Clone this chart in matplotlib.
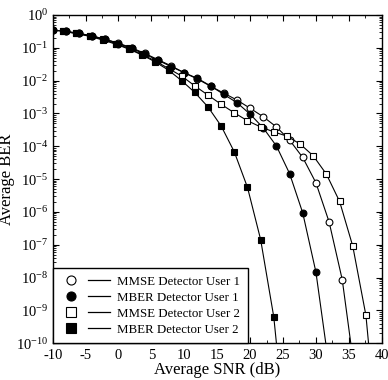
import numpy as np
import matplotlib
matplotlib.use("Agg")
import matplotlib.pyplot as plt
from matplotlib.lines import Line2D
from matplotlib.legend_handler import HandlerTuple
from matplotlib.ticker import LogLocator, MultipleLocator, LogFormatterMathtext, NullFormatter

plt.rcParams['font.family'] = ['Liberation Serif', 'DejaVu Serif']
plt.rcParams['mathtext.fontset'] = 'custom'
plt.rcParams['mathtext.rm'] = 'Liberation Serif'
plt.rcParams['mathtext.it'] = 'Liberation Serif:italic'
plt.rcParams['axes.unicode_minus'] = False

# Data (log10 BER); last entry of each series is where the curve leaves the axes (no marker)
snr_mmse_u1 = [-10, -8, -6, -4, -2, 0, 2, 4, 6, 8, 10, 12, 14, 16, 18, 20, 22, 24, 26, 28, 30, 32, 34, 36]
ber_mmse_u1 = [-0.46, -0.50, -0.56, -0.64, -0.74, -0.86, -1.00, -1.17, -1.36, -1.55, -1.76, -1.95,
               -2.17, -2.38, -2.59, -2.84, -3.10, -3.41, -3.81, -4.34, -5.11, -6.30, -8.06, -11.04]

snr_mber_u1 = [-10, -8, -6, -4, -2, 0, 2, 4, 6, 8, 10, 12, 14, 16, 18, 20, 22, 24, 26, 28, 30, 32]
ber_mber_u1 = [-0.46, -0.50, -0.56, -0.64, -0.74, -0.87, -1.02, -1.19, -1.38, -1.57, -1.76, -1.93,
               -2.16, -2.42, -2.67, -3.02, -3.44, -3.99, -4.83, -6.03, -7.83, -10.72]

snr_mmse_u2 = [-8.4, -6.4, -4.4, -2.4, -0.4, 1.6, 3.6, 5.6, 7.6, 9.6, 11.6, 13.6, 15.6, 17.6, 19.6,
               21.6, 23.6, 25.6, 27.6, 29.6, 31.6, 33.6, 35.6, 37.6, 38.4]
ber_mmse_u2 = [-0.50, -0.56, -0.64, -0.74, -0.87, -1.02, -1.20, -1.40, -1.63, -1.86, -2.16, -2.44,
               -2.72, -2.98, -3.22, -3.41, -3.56, -3.69, -3.93, -4.29, -4.85, -5.68, -7.04, -9.15, -10.85]

snr_mber_u2 = [-8.4, -6.4, -4.4, -2.4, -0.4, 1.6, 3.6, 5.6, 7.6, 9.6, 11.6, 13.6, 15.6, 17.6, 19.6,
               21.6, 23.6, 24.4]
ber_mber_u2 = [-0.50, -0.56, -0.65, -0.76, -0.89, -1.04, -1.22, -1.43, -1.68, -2.00, -2.36, -2.80,
               -3.38, -4.17, -5.25, -6.84, -9.20, -10.80]

labels = ["MMSE Detector User 1", "MBER Detector User 1", "MMSE Detector User 2", "MBER Detector User 2"]

fig = plt.figure(figsize=(3.88, 3.80), dpi=100)
ax = fig.add_axes([0.1358, 0.0966, 0.8480, 0.8639])

series = [
    (snr_mmse_u1, ber_mmse_u1, 'o', 'white'),
    (snr_mber_u1, ber_mber_u1, 'o', 'black'),
    (snr_mmse_u2, ber_mmse_u2, 's', 'white'),
    (snr_mber_u2, ber_mber_u2, 's', 'black'),
]
handles = []
for x, y, m, fc in series:
    yy = 10.0 ** np.array(y)
    n = len(x) - 1
    ax.plot(x, yy, color='black', lw=0.8, marker=m, markersize=4.9, markerfacecolor=fc,
            markeredgecolor='black', markeredgewidth=0.8, markevery=list(range(n)))
    hm = Line2D([], [], ls='none', marker=m, markersize=6.5, markerfacecolor=fc,
                markeredgecolor='black', markeredgewidth=0.8)
    hl = Line2D([], [], color='black', lw=0.9)
    handles.append((hm, hl))

ax.set_yscale('log')
ax.set_xlim(-10, 40)
ax.set_ylim(1e-10, 1)
ax.xaxis.set_major_locator(MultipleLocator(5))
ax.xaxis.set_minor_locator(MultipleLocator(2.5))
ax.yaxis.set_major_locator(LogLocator(base=10, numticks=20))
ax.yaxis.set_minor_locator(LogLocator(base=10, subs=np.arange(2, 10), numticks=20))
ax.yaxis.set_major_formatter(LogFormatterMathtext())
ax.yaxis.set_minor_formatter(NullFormatter())
ax.tick_params(which='both', direction='in', top=True, right=True, labelsize=10.5)
ax.tick_params(which='major', length=4, width=0.8)
ax.tick_params(which='minor', length=2, width=0.6)
ax.tick_params(axis='x', pad=4)
ax.tick_params(axis='y', pad=3)
for s in ax.spines.values():
    s.set_linewidth(1.0)

ax.set_xlabel("Average SNR (dB)", fontsize=12, labelpad=0)
ax.set_ylabel("Average BER", fontsize=12, labelpad=1)

leg = ax.legend(handles, labels, loc='lower left', borderaxespad=0, fontsize=9.3,
                handler_map={tuple: HandlerTuple(ndivide=None, pad=0.4)},
                handlelength=3.8, handletextpad=0.6, labelspacing=0.3,
                fancybox=False, framealpha=1, edgecolor='black', borderpad=0.6)
leg.get_frame().set_linewidth(1.0)

fig.savefig("out.png", dpi=100)
